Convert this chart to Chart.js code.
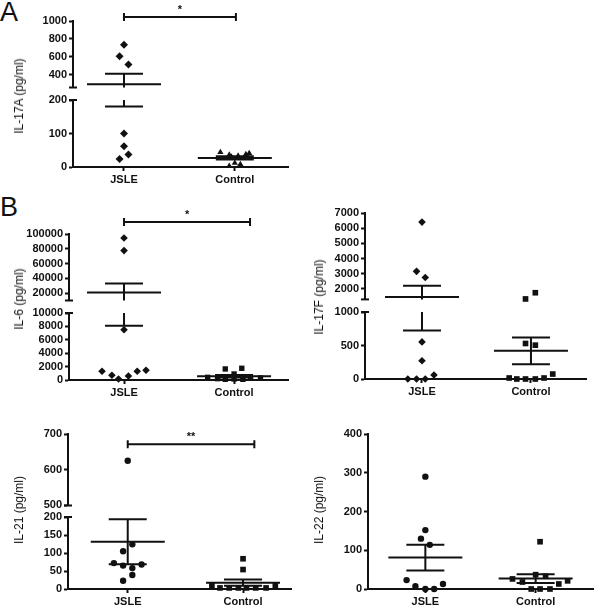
<!DOCTYPE html>
<html lang="en">
<head>
<meta charset="UTF-8">
<title>IL-17A, IL-6, IL-17F, IL-21, IL-22 in JSLE vs Control</title>
<script src="https://cdn.jsdelivr.net/npm/chart.js"></script>
<style>
  body { margin: 0; background: #fff; font-family: "Liberation Sans", Arial, sans-serif; }
  #fig { position: relative; width: 600px; height: 606px; overflow: hidden; background: #fff; }
  #fig canvas { position: absolute; }
  .letter { position: absolute; font-size: 27px; line-height: 1; color: #111; }
  .ytitle { position: absolute; font-size: 12px; color: #111; white-space: nowrap;
            transform: translate(-50%, -50%) rotate(-90deg); }
</style>
</head>
<body>
<div id="fig">
  <div class="letter" style="left:0px; top:-1px;">A</div>
  <div class="letter" style="left:0px; top:194px;">B</div>
</div>
<script>
const groups = ['JSLE', 'Control'];

// IL-17A
const il17aJsle = [737, 609, 517, 100, 62, 37, 24];
const il17aJsleX = [1.0, 0.96, 1.04, 1.0, 1.0, 1.04, 0.96];
const il17aCtrl = [44, 36, 33, 38, 41, 30, 12, 3, 8];
const il17aCtrlX = [1.87, 1.95, 2.03, 2.10, 2.13, 1.97, 2.0, 1.95, 2.05];
const il17aTicksHigh = [400, 600, 800, 1000];
const il17aTicksLow = [0, 100, 200];

// IL-6
const il6Jsle = [94600, 77500, 7500, 1300, 700, 150, 600, 1300, 1450];
const il6JsleX = [1.0, 1.0, 1.0, 0.8, 0.89, 0.95, 1.04, 1.12, 1.2];
const il6Ctrl = [1650, 1750, 900, 400, 300, 500, 200, 100, 150, 250, 100];
const il6CtrlX = [1.92, 2.07, 2.0, 1.76, 2.24, 2.08, 1.85, 1.92, 2.0, 2.15, 2.08];
const il6TicksHigh = [20000, 40000, 60000, 80000, 100000];
const il6TicksLow = [0, 2000, 4000, 6000, 8000, 10000];

// IL-17F
const il17fJsle = [6400, 3150, 2740, 554, 272, 0, 0, 0, 60];
const il17fJsleX = [1.0, 0.95, 1.03, 1.0, 1.0, 0.87, 0.95, 1.03, 1.11];
const il17fCtrl = [1330, 1740, 530, 505, 15, 0, 0, 0, 15, 74];
const il17fCtrlX = [1.95, 2.04, 1.95, 2.04, 1.8, 1.87, 1.95, 2.04, 2.12, 2.2];
const il17fTicksHigh = [2000, 3000, 4000, 5000, 6000, 7000];
const il17fTicksLow = [0, 500, 1000];

// IL-21
const il21Jsle = [625, 124, 105, 72, 65, 58, 68, 39, 23];
const il21JsleX = [1.0, 1.04, 0.96, 0.88, 0.96, 1.04, 1.12, 1.04, 0.96];
const il21Ctrl = [84, 54, 10, 3, 3, 3, 3, 3, 3, 10];
const il21CtrlX = [2.0, 2.0, 1.73, 1.8, 1.88, 1.96, 2.03, 2.11, 2.2, 2.28];
const il21TicksHigh = [500, 600, 700];
const il21TicksLow = [0, 50, 100, 150, 200];

// IL-22
const il22Jsle = [290, 152, 130, 114, 23, 7, 0, 0, 13];
const il22JsleX = [1.0, 1.0, 0.96, 1.04, 0.83, 0.91, 1.0, 1.08, 1.16];
const il22Ctrl = [122, 37, 33, 26, 18, 13, 21, 0, 0, 0];
const il22CtrlX = [2.04, 2.0, 2.09, 1.79, 1.88, 2.21, 2.29, 1.96, 2.04, 2.13];
const il22Ticks = [0, 100, 200, 300, 400];

const INK = '#111';
const FONT = { family: '"Liberation Sans", Arial, sans-serif', size: 11, weight: 'bold' };
const MEAN_HALF = 37, CAP_HALF = 19;

const panels = [
  {
    axisX: 73, right: 288, xMin: 0.54, xMax: 2.48,
    title: 'IL-17A (pg/ml)', titleX: 18.5, titleY: 96,
    jsle: { values: il17aJsle, xs: il17aJsleX, style: 'rectRot', r: 4 },
    ctrl: { values: il17aCtrl, xs: il17aCtrlX, style: 'triangle', r: 3.6 },
    segments: [
      { min: 262, max: 1000, top: 21, bottom: 88, ticks: il17aTicksHigh },
      { min: 0, max: 200, top: 100, bottom: 167, ticks: il17aTicksLow }
    ],
    bracket: { from: 1, to: 2.01, y: 17, label: '*' }
  },
  {
    axisX: 69, right: 288, xMin: 0.5, xMax: 2.49,
    title: 'IL-6 (pg/ml)', titleX: 19, titleY: 299,
    jsle: { values: il6Jsle, xs: il6JsleX, style: 'rectRot', r: 3.8 },
    ctrl: { values: il6Ctrl, xs: il6CtrlX, style: 'rect', r: 3.8 },
    segments: [
      { min: 10000, max: 100000, top: 234, bottom: 301, ticks: il6TicksHigh },
      { min: 0, max: 10000, top: 313, bottom: 380, ticks: il6TicksLow }
    ],
    bracket: { from: 1, to: 2.145, y: 222, label: '*' }
  },
  {
    axisX: 365, right: 586, xMin: 0.477, xMax: 2.505,
    title: 'IL-17F (pg/ml)', titleX: 318.5, titleY: 296.5,
    jsle: { values: il17fJsle, xs: il17fJsleX, style: 'rectRot', r: 3.8 },
    ctrl: { values: il17fCtrl, xs: il17fCtrlX, style: 'rect', r: 4 },
    segments: [
      { min: 1300, max: 7000, top: 213, bottom: 300.4, ticks: il17fTicksHigh },
      { min: 0, max: 1000, top: 312.3, bottom: 379.7, ticks: il17fTicksLow }
    ]
  },
  {
    axisX: 67.7, right: 291, xMin: 0.482, xMax: 2.416,
    title: 'IL-21 (pg/ml)', titleX: 18.5, titleY: 509.5,
    jsle: { values: il21Jsle, xs: il21JsleX, style: 'circle', r: 3.2 },
    ctrl: { values: il21Ctrl, xs: il21CtrlX, style: 'rect', r: 4 },
    segments: [
      { min: 500, max: 700, top: 433.7, bottom: 505.3, ticks: il21TicksHigh },
      { min: 0, max: 200, top: 516.7, bottom: 588.3, ticks: il21TicksLow }
    ],
    bracket: { from: 1, to: 2.098, y: 444.3, label: '**' }
  },
  {
    axisX: 367.7, right: 592.7, xMin: 0.48, xMax: 2.52,
    title: 'IL-22 (pg/ml)', titleX: 318.5, titleY: 509.5,
    jsle: { values: il22Jsle, xs: il22JsleX, style: 'circle', r: 3.2 },
    ctrl: { values: il22Ctrl, xs: il22CtrlX, style: 'rect', r: 4 },
    segments: [
      { min: 0, max: 400, top: 433.7, bottom: 588.3, ticks: il22Ticks }
    ]
  }
];

function mean(a) { return a.reduce((s, v) => s + v, 0) / a.length; }
function sem(a) {
  const m = mean(a);
  const v = a.reduce((s, x) => s + (x - m) * (x - m), 0) / (a.length - 1);
  return Math.sqrt(v / a.length);
}

// mean line with SEM whiskers, clipped to the segment
const meanSemPlugin = {
  id: 'meanSem',
  afterDatasetsDraw(chart, args, opts) {
    const { ctx, chartArea: a, scales: { x, y } } = chart;
    ctx.save();
    ctx.beginPath();
    ctx.rect(a.left + 1, a.top - 1, a.right - a.left, a.bottom - a.top + 2);
    ctx.clip();
    ctx.strokeStyle = INK;
    ctx.lineWidth = 2;
    opts.groups.forEach(g => {
      const m = mean(g.values), s = sem(g.values);
      const cx = x.getPixelForValue(g.x);
      const inside = v => v >= y.min && v <= y.max;
      ctx.beginPath();
      if (inside(m)) {
        const py = y.getPixelForValue(m);
        ctx.moveTo(cx - MEAN_HALF, py); ctx.lineTo(cx + MEAN_HALF, py);
      }
      [m - s, m + s].forEach(v => {
        if (inside(v)) {
          const py = y.getPixelForValue(v);
          ctx.moveTo(cx - CAP_HALF, py); ctx.lineTo(cx + CAP_HALF, py);
        }
      });
      const lo = Math.max(m - s, y.min), hi = Math.min(m + s, y.max);
      if (hi > lo) {
        ctx.moveTo(cx, y.getPixelForValue(lo)); ctx.lineTo(cx, y.getPixelForValue(hi));
      }
      ctx.stroke();
    });
    ctx.restore();
  }
};

// axis break caps and significance bracket
const decorPlugin = {
  id: 'decor',
  afterDraw(chart, args, opts) {
    const { ctx, chartArea: a, scales: { x } } = chart;
    ctx.save();
    ctx.strokeStyle = INK;
    ctx.lineWidth = 2;
    ctx.beginPath();
    if (opts.capBottom) { ctx.moveTo(a.left - 4, a.bottom); ctx.lineTo(a.left + 4, a.bottom); }
    if (opts.capTop) { ctx.moveTo(a.left - 4, a.top); ctx.lineTo(a.left + 4, a.top); }
    if (opts.bracket) {
      const b = opts.bracket;
      const x1 = x.getPixelForValue(b.from), x2 = x.getPixelForValue(b.to);
      ctx.moveTo(x1, b.py); ctx.lineTo(x2, b.py);
      ctx.moveTo(x1, b.py - 4); ctx.lineTo(x1, b.py + 4);
      ctx.moveTo(x2, b.py - 4); ctx.lineTo(x2, b.py + 4);
    }
    ctx.stroke();
    if (opts.bracket) {
      const b = opts.bracket;
      const x1 = x.getPixelForValue(b.from), x2 = x.getPixelForValue(b.to);
      ctx.fillStyle = INK;
      ctx.font = 'bold 11px "Liberation Sans", Arial, sans-serif';
      ctx.textAlign = 'center';
      ctx.textBaseline = 'middle';
      ctx.fillText(b.label, (x1 + x2) / 2, b.py - 7);
    }
    ctx.restore();
  }
};

const fig = document.getElementById('fig');
const Y_W = 56, PAD_R = 8, X_H = 26, PAD_B = 8;

function points(group, seg) {
  return group.values
    .map((v, i) => ({ x: group.xs[i], y: v }))
    .filter(p => p.y >= seg.min && p.y <= seg.max);
}

function buildSegment(p, seg, idx) {
  const n = p.segments.length;
  const isLow = idx === n - 1;
  const isTop = idx === 0;
  const segTop = Math.round(seg.top);
  let padT = 10;
  if (isTop && p.bracket) padT = Math.max(10, Math.round(segTop - p.bracket.y + 16));
  const left = Math.round(p.axisX - Y_W);
  const top = segTop - padT;
  const bottomPad = isLow ? X_H : PAD_B;
  const width = Math.round(Y_W + (p.right - p.axisX) + PAD_R);
  const height = Math.round(padT + (seg.bottom - seg.top) + bottomPad);

  const canvas = document.createElement('canvas');
  canvas.width = width; canvas.height = height;
  canvas.style.left = left + 'px'; canvas.style.top = top + 'px';
  canvas.style.width = width + 'px'; canvas.style.height = height + 'px';
  fig.appendChild(canvas);

  const axisGrid = { display: true, drawOnChartArea: false, drawTicks: true, tickLength: 4, tickWidth: 2, tickColor: INK };
  const axisBorder = { display: true, color: INK, width: 2 };

  new Chart(canvas, {
    type: 'scatter',
    data: {
      datasets: [
        { data: points(p.jsle, seg), pointStyle: p.jsle.style, pointRadius: p.jsle.r,
          backgroundColor: INK, borderWidth: 0, clip: false },
        { data: points(p.ctrl, seg), pointStyle: p.ctrl.style, pointRadius: p.ctrl.r,
          backgroundColor: INK, borderWidth: 0, clip: false }
      ]
    },
    options: {
      responsive: false,
      animation: false,
      events: [],
      layout: { padding: { top: padT, right: PAD_R, bottom: isLow ? 0 : PAD_B, left: 0 } },
      plugins: {
        legend: { display: false },
        tooltip: { enabled: false },
        meanSem: { groups: [ { x: 1, values: p.jsle.values }, { x: 2, values: p.ctrl.values } ] },
        decor: {
          capBottom: n > 1 && !isLow,
          capTop: n > 1 && !isTop,
          bracket: isTop && p.bracket ? Object.assign({}, p.bracket, { py: p.bracket.y - top }) : null
        }
      },
      scales: {
        x: {
          type: 'linear', min: p.xMin, max: p.xMax, display: isLow,
          afterBuildTicks: s => { s.ticks = [{ value: 1 }, { value: 2 }]; },
          afterFit: s => { s.height = isLow ? X_H : 0; },
          ticks: { callback: v => groups[v - 1], font: FONT, color: INK, padding: 2, maxRotation: 0, autoSkip: false },
          grid: axisGrid,
          border: axisBorder
        },
        y: {
          type: 'linear', min: seg.min, max: seg.max,
          afterBuildTicks: s => { s.ticks = seg.ticks.map(v => ({ value: v })); },
          afterFit: s => { s.width = Y_W; },
          ticks: { callback: v => String(v), font: FONT, color: INK, padding: 2, autoSkip: false },
          grid: axisGrid,
          border: axisBorder
        }
      }
    },
    plugins: [meanSemPlugin, decorPlugin]
  });
}

panels.forEach(p => {
  p.segments.forEach((seg, i) => buildSegment(p, seg, i));
  const t = document.createElement('div');
  t.className = 'ytitle';
  t.textContent = p.title;
  t.style.left = p.titleX + 'px';
  t.style.top = p.titleY + 'px';
  fig.appendChild(t);
});
</script>
</body>
</html>
